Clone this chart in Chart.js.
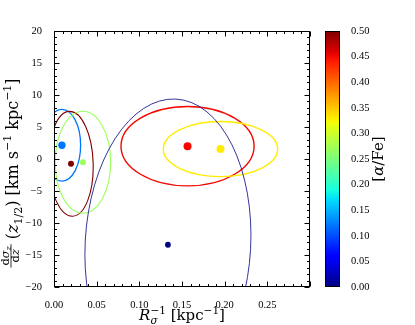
<!DOCTYPE html>
<html>
<head>
<meta charset="utf-8">
<script src="https://cdn.jsdelivr.net/npm/chart.js@4"></script>
<style>
  body { margin: 0; background: #fff; }
  #wrap { position: relative; width: 415px; height: 325px; }
  canvas { position: absolute; top: 0; }
</style>
</head>
<body>
<div id="wrap">
  <canvas id="main" width="415" height="325" style="left:0"></canvas>
  <canvas id="cbar" width="115" height="325" style="left:300px"></canvas>
</div>
<script>
// measured values (one per alpha/Fe bin)
const invRsigma = [0.0093, 0.0199, 0.0339, 0.1565, 0.1951, 0.1335];
const slopeZhalf = [2.15, -0.75, -0.5, 2.0, 1.55, -13.4];
const alphaFe = [0.12, 0.50, 0.27, 0.45, 0.33, 0.00];
// error ellipse half-widths
const errInvR = [0.0219, 0.026, 0.0325, 0.078, 0.067, 0.097];
const errSlope = [5.6, 8.2, 7.95, 6.2, 4.3, 22.8];

const xTickVals = [0, 0.05, 0.10, 0.15, 0.20, 0.25];
const yTickVals = [-20, -15, -10, -5, 0, 5, 10, 15, 20];
const cbTickVals = [0, 0.05, 0.10, 0.15, 0.20, 0.25, 0.30, 0.35, 0.40, 0.45, 0.50];

// styling
const dotRadius = [3.7, 3, 3, 4, 4, 2.9];
const ringWidth = [1.3, 1.1, 1.1, 1.4, 1.4, 0.8];
const ringTilt = [0, -0.03, 0, 0, 0, 0.055];

const serif = '"DejaVu Serif", serif';
const tickFont = { family: '"Liberation Serif", serif', size: 10.5 };

// matplotlib jet
const jetSeg = {
  r: [[0, 0], [0.35, 0], [0.66, 1], [0.89, 1], [1, 0.5]],
  g: [[0, 0], [0.125, 0], [0.375, 1], [0.64, 1], [0.91, 0], [1, 0]],
  b: [[0, 0.5], [0.11, 1], [0.34, 1], [0.65, 0], [1, 0]]
};
function segVal(seg, t) {
  for (let i = 1; i < seg.length; i++) {
    if (t <= seg[i][0]) {
      const [x0, y0] = seg[i - 1], [x1, y1] = seg[i];
      return y0 + (y1 - y0) * (t - x0) / (x1 - x0);
    }
  }
  return seg[seg.length - 1][1];
}
function jet(v) {
  const t = Math.min(1, Math.max(0, v / 0.5));
  const c = k => Math.round(255 * segVal(jetSeg[k], t));
  return `rgb(${c('r')},${c('g')},${c('b')})`;
}
const colors = alphaFe.map(jet);

function drawRuns(ctx, runs, x, y) {
  let cx = x, prevStart = x;
  runs.forEach(r => {
    ctx.font = r.f;
    const w = ctx.measureText(r.t).width;
    const start = r.stack ? prevStart : cx;
    ctx.fillText(r.t, start, y + (r.dy || 0));
    cx = Math.max(cx, start + w);
    prevStart = start;
  });
  return cx - x;
}
function runsWidth(ctx, runs) {
  let cx = 0, prevStart = 0;
  runs.forEach(r => {
    ctx.font = r.f;
    const w = ctx.measureText(r.t).width;
    const start = r.stack ? prevStart : cx;
    cx = Math.max(cx, start + w);
    prevStart = start;
  });
  return cx;
}

const ellipsePlugin = {
  id: 'ellipses',
  beforeDatasetsDraw(chart) {
    const { ctx, chartArea: a, scales: { x, y } } = chart;
    ctx.save();
    ctx.beginPath();
    ctx.rect(a.left, a.top, a.right - a.left, a.bottom - a.top);
    ctx.clip();
    invRsigma.forEach((v, i) => {
      const cx = x.getPixelForValue(v), cy = y.getPixelForValue(slopeZhalf[i]);
      const rx = Math.abs(x.getPixelForValue(v + errInvR[i]) - cx);
      const ry = Math.abs(y.getPixelForValue(slopeZhalf[i] + errSlope[i]) - cy);
      ctx.beginPath();
      ctx.ellipse(cx, cy, rx, ry, ringTilt[i], 0, Math.PI * 2);
      ctx.strokeStyle = colors[i];
      ctx.lineWidth = ringWidth[i];
      ctx.stroke();
    });
    ctx.restore();
  }
};

const framePlugin = {
  id: 'frame',
  afterDraw(chart) {
    const { ctx, chartArea: a, scales: { x, y } } = chart;
    const L = Math.round(a.left) + 0.5, R = Math.round(a.right) - 0.5;
    const T = Math.round(a.top) + 0.5, B = Math.round(a.bottom) - 0.5;
    ctx.save();
    ctx.strokeStyle = '#000';
    ctx.lineWidth = 1;
    ctx.strokeRect(L, T, R - L, B - T);
    ctx.beginPath();
    for (let i = 0; i <= 30; i++) {
      const px = Math.round(x.getPixelForValue(i / 100)) + 0.5;
      const len = i % 5 === 0 ? 5 : 2.5;
      ctx.moveTo(px, B); ctx.lineTo(px, B - len);
      ctx.moveTo(px, T); ctx.lineTo(px, T + len);
    }
    for (let i = -20; i <= 20; i++) {
      const py = Math.round(y.getPixelForValue(i)) + 0.5;
      const len = i % 5 === 0 ? 5 : 2.5;
      ctx.moveTo(L, py); ctx.lineTo(L + len, py);
      ctx.moveTo(R, py); ctx.lineTo(R - len, py);
    }
    ctx.stroke();

    // axis titles
    ctx.fillStyle = '#000';
    ctx.textBaseline = 'alphabetic';
    const f15 = '15px ' + serif, i15 = 'italic 15px ' + serif;
    const f10 = '10.5px ' + serif, i10 = 'italic 10.5px ' + serif;
    const xRuns = [
      { t: 'R', f: i15 },
      { t: 'σ', f: i10, dy: 4 },
      { t: '\u22121', f: f10, dy: -6.5, stack: true },
      { t: ' [kpc', f: f15 },
      { t: '\u22121', f: f10, dy: -6.5 },
      { t: ']', f: f15 }
    ];
    const xw = runsWidth(ctx, xRuns);
    drawRuns(ctx, xRuns, (a.left + a.right) / 2 - xw / 2, 320);

    // y title, rotated
    ctx.save();
    ctx.translate(18, 173);
    ctx.rotate(-Math.PI / 2);
    const f16 = '16px ' + serif, i16 = 'italic 16px ' + serif, f11 = '11px ' + serif;
    const fr = '11.5px ' + serif, fri = 'italic 11.5px ' + serif, frs = 'italic 8px ' + serif;
    const num = [{ t: 'd', f: fr }, { t: 'σ', f: fri }, { t: 'z', f: frs, dy: 2 }];
    const den = [{ t: 'd', f: fr }, { t: 'z', f: fri }];
    const yRuns = [
      { t: '(', f: f16 },
      { t: 'z', f: i16 },
      { t: '1/2', f: f11, dy: 3.5 },
      { t: ')', f: f16 },
      { t: ' [km s', f: f16 },
      { t: '\u22121', f: f11, dy: -7 },
      { t: ' kpc', f: f16 },
      { t: '\u22121', f: f11, dy: -7 },
      { t: ']', f: f16 }
    ];
    const nw = runsWidth(ctx, num), dw = runsWidth(ctx, den);
    const fw = Math.max(nw, dw) + 4;
    const rw = runsWidth(ctx, yRuns);
    const gap = 5;
    const total = fw + gap + rw;
    const x0 = -total / 2;
    drawRuns(ctx, num, x0 + (fw - nw) / 2, -9.5);
    drawRuns(ctx, den, x0 + (fw - dw) / 2, 0.5);
    ctx.fillRect(x0, -7.4, fw, 0.8);
    drawRuns(ctx, yRuns, x0 + fw + gap, 0);
    ctx.restore();
    ctx.restore();
  }
};

new Chart(document.getElementById('main'), {
  type: 'scatter',
  data: {
    datasets: [{
      data: invRsigma.map((v, i) => ({ x: v, y: slopeZhalf[i] })),
      pointBackgroundColor: colors,
      pointBorderColor: colors,
      pointBorderWidth: 0,
      pointRadius: dotRadius,
      pointHoverRadius: dotRadius
    }]
  },
  options: {
    responsive: false,
    animation: false,
    devicePixelRatio: 1,
    layout: { padding: { top: 31, right: 105, left: 0, bottom: 0 } },
    plugins: { legend: { display: false }, tooltip: { enabled: false } },
    scales: {
      x: {
        type: 'linear', min: 0, max: 0.3,
        afterBuildTicks: s => { s.ticks = xTickVals.map(v => ({ value: v })); },
        afterFit: s => { s.height = 38; },
        grid: { display: false },
        border: { display: false },
        ticks: {
          font: tickFont, color: '#000', padding: 4, maxRotation: 0, autoSkip: false,
          callback: v => v.toFixed(2)
        }
      },
      y: {
        type: 'linear', min: -20, max: 20,
        afterBuildTicks: s => { s.ticks = yTickVals.map(v => ({ value: v })); },
        afterFit: s => { s.width = 54; },
        grid: { display: false },
        border: { display: false },
        ticks: {
          font: tickFont, color: '#000', padding: 4, autoSkip: false,
          callback: v => (v < 0 ? '\u2212' + Math.abs(v) : '' + v)
        }
      }
    }
  },
  plugins: [ellipsePlugin, framePlugin]
});

// colorbar
const cbarPlugin = {
  id: 'cbarFrame',
  afterDraw(chart) {
    const { ctx, chartArea: a } = chart;
    ctx.save();
    ctx.strokeStyle = '#000';
    ctx.lineWidth = 1;
    ctx.strokeRect(Math.round(a.left) + 0.5, Math.round(a.top) + 0.5,
      Math.round(a.right - a.left) - 1, Math.round(a.bottom - a.top) - 1);
    ctx.fillStyle = '#000';
    ctx.translate(83, 159);
    ctx.rotate(-Math.PI / 2);
    const runs = [
      { t: '[', f: '15px ' + serif },
      { t: 'α', f: 'italic 15px ' + serif },
      { t: '/Fe]', f: '15px ' + serif }
    ];
    const w = runsWidth(ctx, runs);
    drawRuns(ctx, runs, -w / 2, 0);
    ctx.restore();
  }
};

new Chart(document.getElementById('cbar'), {
  type: 'bar',
  data: {
    labels: [''],
    datasets: [{
      data: [[0, 0.5]],
      borderWidth: 0,
      barPercentage: 1,
      categoryPercentage: 1,
      backgroundColor: c => {
        const a = c.chart.chartArea;
        if (!a) return '#000';
        const g = c.chart.ctx.createLinearGradient(0, a.bottom, 0, a.top);
        for (let i = 0; i <= 50; i++) g.addColorStop(i / 50, jet(i / 100));
        return g;
      }
    }]
  },
  options: {
    responsive: false,
    animation: false,
    devicePixelRatio: 1,
    layout: { padding: { top: 31, left: 25, right: 0, bottom: 38 } },
    plugins: { legend: { display: false }, tooltip: { enabled: false } },
    scales: {
      x: { display: false },
      y: {
        position: 'right', min: 0, max: 0.5,
        afterBuildTicks: s => { s.ticks = cbTickVals.map(v => ({ value: v })); },
        afterFit: s => { s.width = 75; },
        grid: { display: false },
        border: { display: false },
        ticks: { font: tickFont, color: '#000', padding: 3, autoSkip: false, callback: v => v.toFixed(2) }
      }
    }
  },
  plugins: [cbarPlugin]
});
</script>
</body>
</html>
